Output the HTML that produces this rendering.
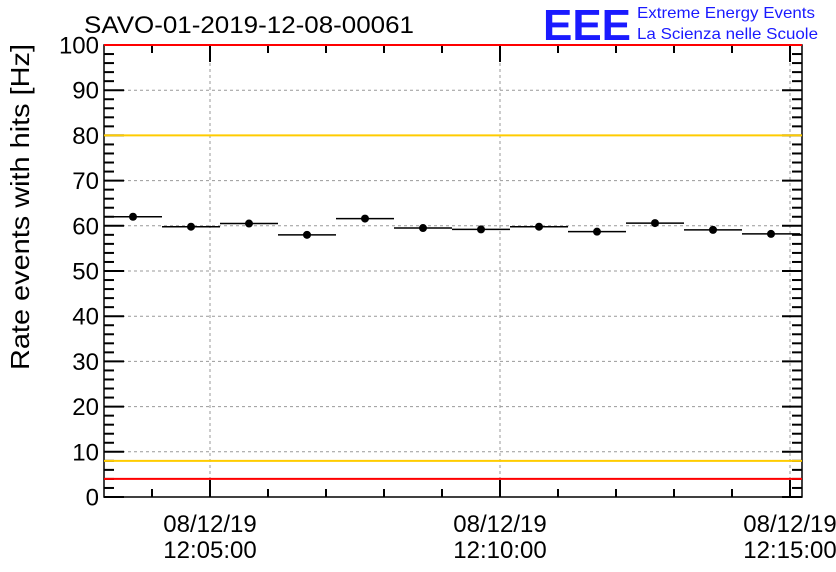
<!DOCTYPE html>
<html><head><meta charset="utf-8"><style>
html,body{margin:0;padding:0;background:#fff;}
svg{display:block;font-family:"Liberation Sans",Arial,sans-serif;}
</style></head><body>
<svg id="c" width="836" height="572" viewBox="0 0 836 572">
<text x="84" y="33" font-size="24" fill="#000" textLength="330" lengthAdjust="spacingAndGlyphs">SAVO-01-2019-12-08-00061</text>
<g>
<text x="543" y="40" font-size="44" font-weight="bold" fill="#1a1aff" textLength="88" lengthAdjust="spacingAndGlyphs">EEE</text>
<text x="637" y="18" font-size="16" fill="#1a1aff" textLength="178" lengthAdjust="spacingAndGlyphs">Extreme Energy Events</text>
<text x="637" y="39" font-size="16" fill="#1a1aff" textLength="181" lengthAdjust="spacingAndGlyphs">La Scienza nelle Scuole</text>
</g>
<text transform="translate(29,207) rotate(-90)" text-anchor="middle" font-size="26" fill="#000" textLength="326" lengthAdjust="spacingAndGlyphs">Rate events with hits [Hz]</text>
<g id="plot"></g>
</svg>
<script>
const values=[62,59.8,60.5,58,61.6,59.5,59.2,59.8,58.7,60.6,59.1,58.2];
const yTicks=[0,10,20,30,40,50,60,70,80,90,100];
const xTickDates=["08/12/19","08/12/19","08/12/19"];
const xTickTimes=["12:05:00","12:10:00","12:15:00"];
const xTickMinutes=[5,10,15];
const thresholdsRed=[100,4];
const thresholdsYellow=[80,8];
const L=104,R=802,T=45,B=497;
const pxPerMin=58;
const xMin0=5-(210-L)/pxPerMin;
function X(m){return L+(m-xMin0)*pxPerMin;}
function Y(v){return B-(v/100)*(B-T);}
const NS="http://www.w3.org/2000/svg";
const g=document.getElementById('plot');
function mk(t,a,p){const e=document.createElementNS(NS,t);for(const k in a)e.setAttribute(k,a[k]);(p||g).appendChild(e);return e;}
yTicks.forEach(v=>{if(v>0&&v<100){const e=mk('line',{x1:L,x2:R,y1:Y(v),y2:Y(v),stroke:'#999','stroke-dasharray':'3,3','stroke-width':1});

}});
xTickMinutes.forEach(m=>{const x=X(m);if(x<R-2){const e=mk('line',{x1:x,x2:x,y1:T,y2:B,stroke:'#999','stroke-dasharray':'3,3','stroke-width':1});

}});
const fr=mk('rect',{x:L,y:T,width:R-L,height:B-T,fill:'none',stroke:'#000','stroke-width':1.5});


for(let v=0;v<=100;v+=2){const major=v%10===0;const len=major?20:10;
mk('line',{x1:L,x2:L+len,y1:Y(v),y2:Y(v),stroke:'#000','stroke-width':2});
mk('line',{x1:R,x2:R-len,y1:Y(v),y2:Y(v),stroke:'#000','stroke-width':2});}
for(let m=Math.ceil(xMin0);X(m)<=R;m++){const major=m%5===0;const len=major?17:8;
mk('line',{x1:X(m),x2:X(m),y1:B,y2:B-len,stroke:'#000','stroke-width':2});
mk('line',{x1:X(m),x2:X(m),y1:T,y2:T+len,stroke:'#000','stroke-width':2});}
thresholdsYellow.forEach(v=>{const e=mk('line',{x1:L,x2:R,y1:Y(v),y2:Y(v),stroke:'#ffcc00','stroke-width':2});

});
thresholdsRed.forEach(v=>{const e=mk('line',{x1:L,x2:R,y1:Y(v),y2:Y(v),stroke:'#ff0000','stroke-width':2});

});
yTicks.forEach(v=>{const t=mk('text',{x:L-5,y:Y(v)+8.5,'text-anchor':'end','font-size':24,fill:'#000'});t.textContent=v;

});
xTickMinutes.forEach((m,i)=>{const t1=mk('text',{x:X(m),y:532,'text-anchor':'middle','font-size':24,fill:'#000'});t1.textContent=xTickDates[i];


const t2=mk('text',{x:X(m),y:558,'text-anchor':'middle','font-size':24,fill:'#000'});t2.textContent=xTickTimes[i];

});
values.forEach((v,i)=>{const m0=xMin0+i,m1=xMin0+i+1;const y=Y(v);
const l=mk('line',{x1:X(m0),x2:Math.min(X(m1),R),y1:y,y2:y,stroke:'#000','stroke-width':1.5});


const c=mk('circle',{cx:X(m0+0.5),cy:y,r:4,fill:'#000'});

});
</script>
</body></html>
